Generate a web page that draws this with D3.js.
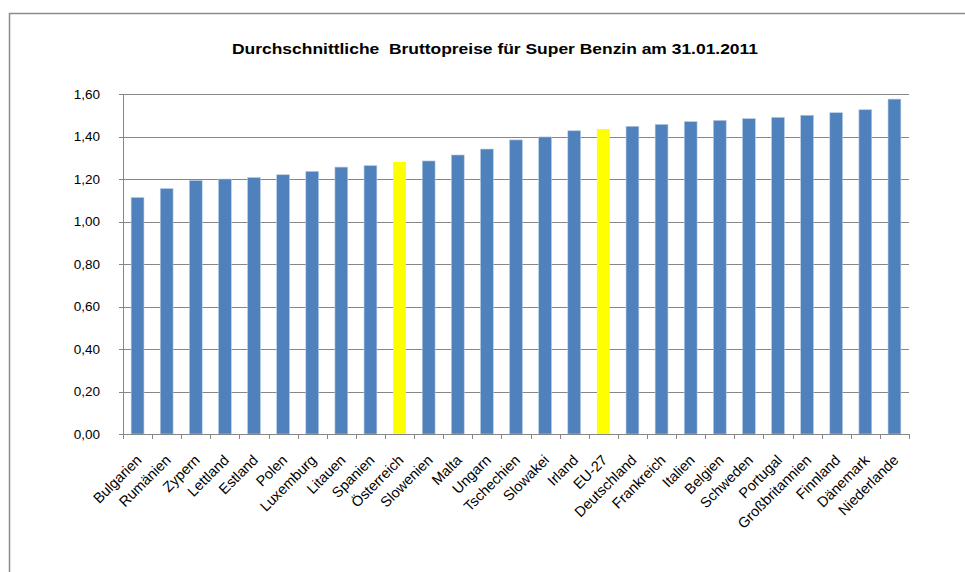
<!DOCTYPE html>
<html>
<head>
<meta charset="utf-8">
<script src="https://cdn.jsdelivr.net/npm/d3@7"></script>
<style>
  html, body { margin: 0; padding: 0; background: #fff; }
  svg { display: block; }
</style>
</head>
<body>
<svg id="chart" width="965" height="572"></svg>
<script>
const title = "Durchschnittliche  Bruttopreise für Super Benzin am 31.01.2011";
const categories = ["Bulgarien","Rumänien","Zypern","Lettland","Estland","Polen","Luxemburg","Litauen","Spanien","Österreich","Slowenien","Malta","Ungarn","Tschechien","Slowakei","Irland","EU-27","Deutschland","Frankreich","Italien","Belgien","Schweden","Portugal","Großbritannien","Finnland","Dänemark","Niederlande"];
const values = [1.113,1.155,1.193,1.200,1.207,1.220,1.236,1.256,1.263,1.280,1.285,1.313,1.341,1.384,1.398,1.427,1.435,1.448,1.457,1.470,1.476,1.484,1.490,1.500,1.512,1.526,1.576];
const highlighted = ["Österreich","EU-27"];
const yTicks = [0,0.2,0.4,0.6,0.8,1.0,1.2,1.4,1.6];

const svg = d3.select("#chart");
const font = "'Liberation Sans', Arial, sans-serif";

// outer chart border
svg.append("path")
  .attr("d", "M9.5,580 L9.5,13.5 L975,13.5")
  .attr("fill", "none").attr("stroke", "#8c8c8c").attr("stroke-width", 1.5);

const x = d3.scaleBand().domain(categories).range([123, 909]).padding(0);
const y = d3.scaleLinear().domain([0, 1.6]).range([434, 94]);

// gridlines
svg.append("g").selectAll("line").data(yTicks).join("line")
  .attr("x1", 119).attr("x2", 909)
  .attr("y1", d => Math.round(y(d)) + 0.5).attr("y2", d => Math.round(y(d)) + 0.5)
  .attr("stroke", "#868686").attr("stroke-width", 1);

// y labels
const fmt = d => d.toFixed(2).replace(".", ",");
svg.append("g").selectAll("text").data(yTicks).join("text")
  .attr("x", 100).attr("y", d => y(d))
  .attr("dy", "0.35em")
  .attr("text-anchor", "end")
  .attr("font-family", font).attr("font-size", 13.5).attr("fill", "#000")
  .text(fmt);

// y axis line
svg.append("line")
  .attr("x1", 123.5).attr("x2", 123.5).attr("y1", y(1.6)).attr("y2", y(0))
  .attr("stroke", "#868686");

// bars
const bw = x.bandwidth() * 0.44;
svg.append("g").selectAll("rect").data(categories).join("rect")
  .attr("x", (d) => x(d) + (x.bandwidth() - bw) / 2)
  .attr("y", (d, i) => y(values[i]))
  .attr("width", bw)
  .attr("height", (d, i) => y(0) - y(values[i]))
  .attr("fill", d => highlighted.includes(d) ? "#FFFF00" : "#4F81BD")
  .attr("stroke", d => highlighted.includes(d) ? "none" : "#b8cce4")
  .attr("stroke-width", 0.6);

// x axis line + tick marks at category boundaries
svg.append("line")
  .attr("x1", 123).attr("x2", 909).attr("y1", 434.5).attr("y2", 434.5)
  .attr("stroke", "#868686");
const bounds = categories.map(c => x(c)).concat([x.range()[1]]);
svg.append("g").selectAll("line").data(bounds).join("line")
  .attr("x1", d => Math.round(d) + 0.5).attr("x2", d => Math.round(d) + 0.5)
  .attr("y1", 434).attr("y2", 439)
  .attr("stroke", "#868686");

// x labels
svg.append("g").selectAll("text").data(categories).join("text")
  .attr("transform", d => `translate(${x(d) + x.bandwidth() / 2 + 5},461) rotate(-45)`)
  .attr("text-anchor", "end")
  .attr("font-family", font).attr("font-size", 14.5).attr("fill", "#000")
  .text(d => d);

// title
svg.append("text")
  .attr("x", 495).attr("y", 54)
  .attr("text-anchor", "middle")
  .style("white-space", "pre")
  .attr("font-family", font).attr("font-size", 15.5).attr("font-weight", "bold")
  .attr("textLength", 526).attr("lengthAdjust", "spacingAndGlyphs")
  .text(title);
</script>
</body>
</html>
